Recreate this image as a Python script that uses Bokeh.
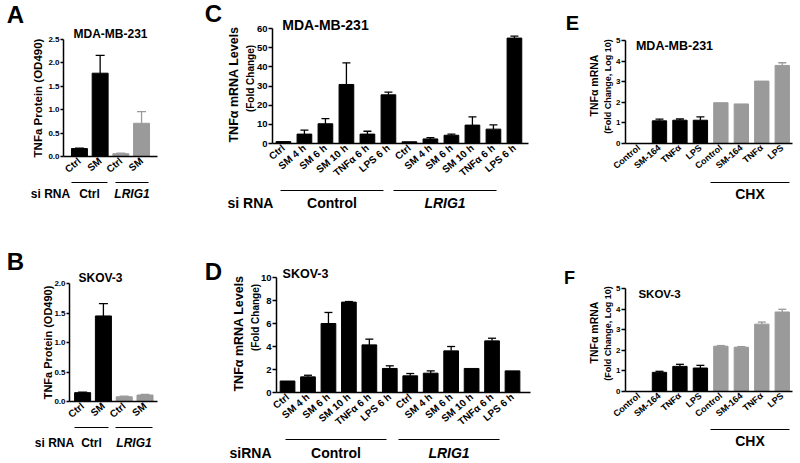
import math
from bokeh.plotting import figure
from bokeh.models import (Range1d, FixedTicker, Label, Arrow, Whisker, TeeHead,
                          ColumnDataSource, LinearAxis)
from bokeh.embed import file_html
from bokeh.resources import INLINE

FONT = "Liberation Sans"
BLACK = "#000000"
GREY = "#9a9a9a"

# ---------------- data ----------------
A_labels = ["Ctrl", "SM", "Ctrl", "SM"]
A_values = [0.17, 1.78, 0.06, 0.71]
A_upper = [0.18, 2.16, 0.07, 0.96]
A_shade = [0, 0, 1, 1]
A_groups = ["Ctrl", "LRIG1"]
A_yticks = [0.0, 0.5, 1.0, 1.5, 2.0, 2.5]
A_yticklabels = ["0.0", "0.5", "1.0", "1.5", "2.0", "2.5"]

B_labels = ["Ctrl", "SM", "Ctrl", "SM"]
B_values = [0.15, 1.45, 0.08, 0.11]
B_upper = [0.16, 1.66, 0.09, 0.12]
B_shade = [0, 0, 1, 1]
B_groups = ["Ctrl", "LRIG1"]
B_yticks = [0.0, 0.5, 1.0, 1.5, 2.0]
B_yticklabels = ["0.0", "0.5", "1.0", "1.5", "2.0"]

C_labels = ["Ctrl", "SM 4 h", "SM 6 h", "SM 10 h", "TNFα 6 h", "LPS 6 h",
            "Ctrl", "SM 4 h", "SM 6 h", "SM 10 h", "TNFα 6 h", "LPS 6 h"]
C_values = [1.0, 4.9, 10.3, 30.8, 4.9, 25.4, 0.9, 2.4, 4.3, 9.6, 7.5, 55.0]
C_upper = [1.0, 7.0, 13.0, 42.1, 6.4, 26.8, 0.9, 3.1, 4.9, 13.9, 9.7, 56.0]
C_shade = [0] * 12
C_groups = ["Control", "LRIG1"]
C_yticks = [0, 10, 20, 30, 40, 50, 60]
C_yticklabels = ["0", "10", "20", "30", "40", "50", "60"]

D_labels = ["Ctrl", "SM 4 h", "SM 6 h", "SM 10 h", "TNFα 6 h", "LPS 6 h",
            "Ctrl", "SM 4 h", "SM 6 h", "SM 10 h", "TNFα 6 h", "LPS 6 h"]
D_values = [1.0, 1.36, 6.0, 7.86, 4.14, 2.09, 1.45, 1.68, 3.62, 2.09, 4.49, 1.88]
D_upper = [1.0, 1.5, 6.96, 7.91, 4.64, 2.32, 1.65, 1.88, 4.0, 2.09, 4.72, 1.88]
D_shade = [0] * 12
D_groups = ["Control", "LRIG1"]
D_yticks = [0, 2, 4, 6, 8, 10]
D_yticklabels = ["0", "2", "4", "6", "8", "10"]

E_labels = ["Control", "SM-164", "TNFα", "LPS", "Control", "SM-164", "TNFα", "LPS"]
E_values = [0, 1.10, 1.13, 1.13, 1.98, 1.92, 3.03, 3.79]
E_upper = [0, 1.18, 1.19, 1.29, 1.98, 1.92, 3.03, 3.92]
E_shade = [0, 0, 0, 0, 1, 1, 1, 1]

F_labels = ["Control", "SM-164", "TNFα", "LPS", "Control", "SM-164", "TNFα", "LPS"]
F_values = [0, 0.93, 1.22, 1.14, 2.20, 2.15, 3.27, 3.86]
F_upper = [0, 0.98, 1.32, 1.27, 2.23, 2.18, 3.37, 3.99]
F_shade = [0, 0, 0, 0, 1, 1, 1, 1]

EF_yticks = [0, 1, 2, 3, 4, 5]
EF_yticklabels = ["0", "1", "2", "3", "4", "5"]
CHX_label = "CHX"

# ---------------- canvas ----------------
FW, FH = 800, 463
OX, OY = 0, 0  # page offset of the canvas

p = figure(width=FW, height=FH, x_range=Range1d(0, FW), y_range=Range1d(0, FH),
           x_axis_type=None, y_axis_type=None, output_backend="svg", toolbar_location=None,
           min_border_left=0, min_border_right=0, min_border_top=0, min_border_bottom=0)
p.outline_line_color = None
p.title.visible = False
p.background_fill_color = "white"
p.border_fill_color = "white"


def cx(page_x):
    return page_x - OX


def cy(page_y):
    return OY + FH - page_y


def text(page_x, page_y, s, size, style="bold", angle=0):
    p.add_layout(Label(x=cx(page_x), y=cy(page_y), text=s, text_font=FONT,
                       text_font_size=f"{size}px", text_font_style=style,
                       text_align="center", text_baseline="middle",
                       angle=angle, angle_units="deg", text_color="black"))


def hline(x0, x1, page_y):
    p.add_layout(Arrow(end=None, x_start=cx(x0), y_start=cy(page_y), x_end=cx(x1),
                       y_end=cy(page_y), line_width=1.2, line_color="black"))


def panel(name, frame, xr, yr, labels, values, upper, shade, yticks, yticklabels,
          bar_w, yfont, xfont, cap, tick_out=4):
    fl, fr, ft, fb = frame  # page pixels of the plotting area
    kx = (xr[1] - xr[0]) / (fr - fl)
    ky = (yr[1] - yr[0]) / (fb - ft)
    xs0 = xr[0] - cx(fl) * kx
    ys0 = yr[0] - cy(fb) * ky
    xn, yn = name + "_x", name + "_y"
    p.extra_x_ranges[xn] = Range1d(xs0, xs0 + FW * kx)
    p.extra_y_ranges[yn] = Range1d(ys0, ys0 + FH * ky)
    xs = list(range(1, len(values) + 1))
    for s, col in ((0, BLACK), (1, GREY)):
        idx = [i for i in range(len(values)) if shade[i] == s]
        if not idx:
            continue
        src = ColumnDataSource(dict(x=[xs[i] for i in idx], top=[values[i] for i in idx]))
        p.vbar(x="x", top="top", width=bar_w, source=src, fill_color=col, line_color=col,
               x_range_name=xn, y_range_name=yn)
        eidx = [i for i in idx if upper[i] > values[i]]
        if eidx:
            esrc = ColumnDataSource(dict(x=[xs[i] for i in eidx],
                                         lo=[values[i] for i in eidx],
                                         up=[upper[i] for i in eidx]))
            p.add_layout(Whisker(source=esrc, base="x", lower="lo", upper="up",
                                 line_color=col, line_width=1.3,
                                 upper_head=TeeHead(size=cap, line_color=col, line_width=1.3),
                                 lower_head=None, x_range_name=xn, y_range_name=yn))
    ya = LinearAxis(x_range_name=xn, y_range_name=yn, fixed_location=xr[0], bounds=yr,
                    ticker=FixedTicker(ticks=yticks),
                    major_label_overrides={t: l for t, l in zip(yticks, yticklabels)})
    ya.major_tick_out = tick_out
    ya.major_tick_in = 0
    ya.major_tick_line_width = 1.5
    ya.major_label_standoff = 1
    ya.major_label_text_font_size = f"{yfont}px"
    xa = LinearAxis(x_range_name=xn, y_range_name=yn, fixed_location=yr[0], bounds=xr,
                    ticker=FixedTicker(ticks=xs),
                    major_label_overrides={x: l for x, l in zip(xs, labels)})
    xa.major_label_orientation = math.radians(40)
    xa.major_tick_line_color = None
    xa.major_tick_out = 0
    xa.major_tick_in = 0
    xa.major_label_standoff = 3
    xa.major_label_text_font_size = f"{xfont}px"
    for ax in (xa, ya):
        ax.axis_line_width = 1.5
        ax.axis_line_color = "black"
        ax.minor_tick_line_color = None
        ax.major_label_text_font = FONT
        ax.major_label_text_font_style = "bold"
        ax.major_label_text_color = "black"
    p.add_layout(ya, "left")
    p.add_layout(xa, "below")


def group_style(g):
    return "bold italic" if g == "LRIG1" else "bold"


# ---------------- panel A ----------------
panel("A", (63, 157, 39, 156), (0.23, 4.77), (0, 2.5), A_labels, A_values, A_upper, A_shade,
      A_yticks, A_yticklabels, 0.77, 8, 10, 9, tick_out=3)
text(15, 14, "A", 24)
text(110, 33, "MDA-MB-231", 12)
text(37, 97.5, "TNFa Protein (OD490)", 11.5, angle=90)
for (a, b), g in zip(((71, 107), (115, 148)), A_groups):
    hline(a, b, 182)
    text((a + b) / 2, 193, g, 12, group_style(g))
text(50, 193, "si RNA", 12)

# ---------------- panel B ----------------
panel("B", (69, 157, 283, 401), (0.37, 4.6), (0, 2.0), B_labels, B_values, B_upper, B_shade,
      B_yticks, B_yticklabels, 0.77, 8, 10, 9, tick_out=3)
text(15, 261, "B", 24)
text(100, 277, "SKOV-3", 12)
text(47, 342, "TNFa Protein (OD490)", 11, angle=90)
for (a, b), g in zip(((74, 108), (115, 152)), B_groups):
    hline(a, b, 427)
    text((a + b) / 2, 442, g, 12, group_style(g))
text(54, 442, "si RNA", 12)

# ---------------- panel C ----------------
panel("C", (272, 528, 28, 143), (0.48, 12.67), (0, 60), C_labels, C_values, C_upper, C_shade,
      C_yticks, C_yticklabels, 0.7, 9.5, 10, 8)
text(213, 13, "C", 24)
text(325, 24, "MDA-MB-231", 14)
text(233, 84, "TNFα mRNA Levels", 12.5, angle=90)
text(250, 78, "(Fold Change)", 10, angle=90)
for (a, b), g in zip(((280, 383), (393, 496)), C_groups):
    hline(a, b, 190)
    text((a + b) / 2, 202, g, 14, group_style(g))
text(250, 202, "si RNA", 14)

# ---------------- panel D ----------------
panel("D", (276, 530, 277, 392), (0.46, 12.88), (0, 10), D_labels, D_values, D_upper, D_shade,
      D_yticks, D_yticklabels, 0.72, 9.5, 10, 8)
text(213, 271, "D", 24)
text(305, 273, "SKOV-3", 12.5)
text(238, 333, "TNFα mRNA Levels", 12.5, angle=90)
text(255, 317, "(Fold Change)", 10, angle=90)
for (a, b), g in zip(((285, 386), (398, 499)), D_groups):
    hline(a, b, 439)
    text((a + b) / 2, 452, g, 14, group_style(g))
text(250, 452, "siRNA", 14)

# ---------------- panel E ----------------
panel("E", (625, 792, 40, 143), (0.34, 8.5), (0, 5), E_labels, E_values, E_upper, E_shade,
      EF_yticks, EF_yticklabels, 0.7, 8, 9, 8)
text(572, 22, "E", 20)
text(674, 45, "MDA-MB-231", 12.5)
text(593, 85, "TNFα mRNA", 10.5, angle=90)
text(607, 86, "(Fold Change, Log 10)", 9, angle=90)
hline(710, 789, 182)
text(749.5, 193, CHX_label, 14)

# ---------------- panel F ----------------
panel("F", (625, 792, 288, 391), (0.34, 8.5), (0, 5), F_labels, F_values, F_upper, F_shade,
      EF_yticks, EF_yticklabels, 0.7, 8, 9, 8)
text(569, 277, "F", 18)
text(659, 293, "SKOV-3", 11.5)
text(593, 332, "TNFα mRNA", 10.5, angle=90)
text(607, 333, "(Fold Change, Log 10)", 9, angle=90)
hline(710, 789, 429)
text(749.5, 440, CHX_label, 14)

open("out.html", "w").write(file_html(p, INLINE))
